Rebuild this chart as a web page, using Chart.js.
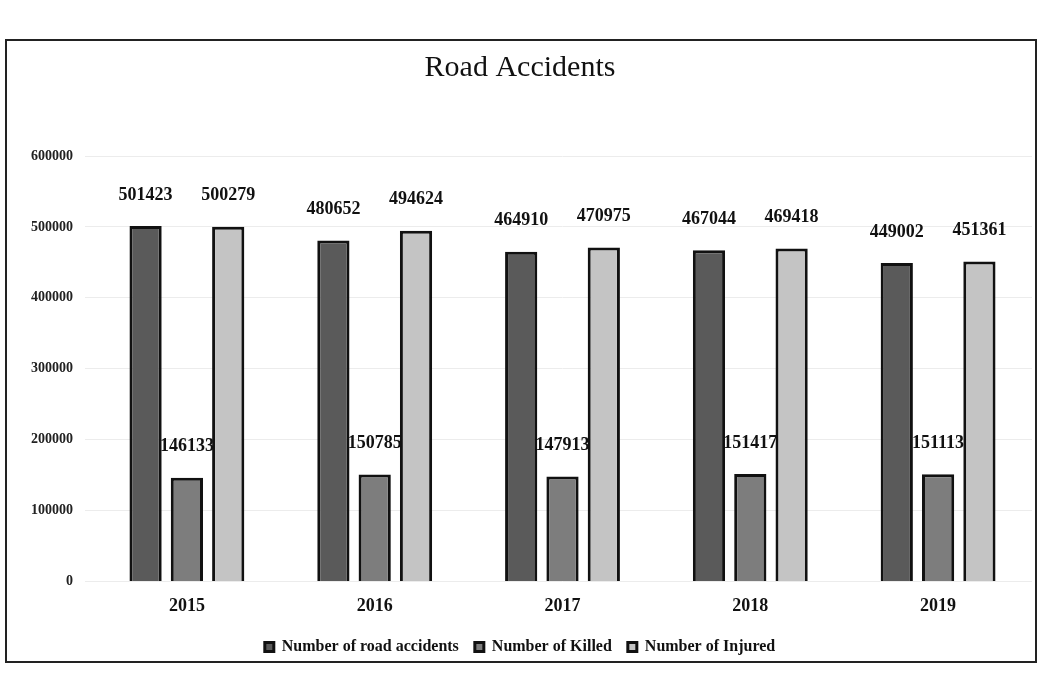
<!DOCTYPE html>
<html>
<head>
<meta charset="utf-8">
<script src="https://cdn.jsdelivr.net/npm/chart.js@4.4.1/dist/chart.umd.min.js"></script>
<style>
  html, body { margin: 0; padding: 0; background: #ffffff; }
  #wrap { width: 1038px; height: 689px; position: relative; }
  canvas { display: block; }
</style>
</head>
<body>
<div id="wrap"><canvas id="c" width="1038" height="689"></canvas></div>
<script>
const categories = ['2015', '2016', '2017', '2018', '2019'];
const roadAccidents = [501423, 480652, 464910, 467044, 449002];
const killed = [146133, 150785, 147913, 151417, 151113];
const injured = [500279, 494624, 470975, 469418, 451361];
const yTicks = [0, 100000, 200000, 300000, 400000, 500000, 600000];

const serif = '"Liberation Serif", "DejaVu Serif", serif';

const labelPlugin = {
  id: 'barLabels',
  afterDatasetsDraw(chart) {
    const ctx = chart.ctx;
    ctx.save();
    ctx.fillStyle = '#111';
    ctx.font = 'bold 18px ' + serif;
    ctx.textAlign = 'center';
    ctx.textBaseline = 'bottom';
    chart.data.datasets.forEach((ds, i) => {
      const meta = chart.getDatasetMeta(i);
      meta.data.forEach((bar, j) => {
        ctx.fillText(String(ds.data[j]), bar.x, bar.y - 22);
      });
    });
    ctx.restore();
  }
};

const framePlugin = {
  id: 'frame',
  beforeDraw(chart) {
    const ctx = chart.ctx;
    ctx.save();
    ctx.strokeStyle = '#222';
    ctx.lineWidth = 2;
    ctx.strokeRect(6, 40, 1030, 622);
    ctx.restore();
  }
};

new Chart(document.getElementById('c'), {
  type: 'bar',
  data: {
    labels: categories,
    datasets: [
      { label: 'Number of road accidents', data: roadAccidents, backgroundColor: '#5a5a5a', borderColor: '#111', borderWidth: 3 },
      { label: 'Number of Killed', data: killed, backgroundColor: '#7d7d7d', borderColor: '#111', borderWidth: 3 },
      { label: 'Number of Injured', data: injured, backgroundColor: '#c4c4c4', borderColor: '#111', borderWidth: 3 }
    ]
  },
  options: {
    responsive: false,
    animation: false,
    layout: { padding: { left: 8, right: 6, top: 50, bottom: 24 } },
    datasets: { bar: { barPercentage: 0.78, categoryPercentage: 0.66 } },
    plugins: {
      title: {
        display: true,
        text: 'Road Accidents',
        color: '#111',
        font: { family: serif, size: 30, weight: 'normal' },
        padding: { top: 0, bottom: 70 }
      },
      legend: {
        position: 'bottom',
        labels: {
          color: '#111',
          font: { family: serif, size: 16, weight: 'bold' },
          boxWidth: 9,
          boxHeight: 9,
          padding: 16
        }
      },
      tooltip: { enabled: false }
    },
    scales: {
      x: {
        grid: { display: false },
        border: { display: false },
        ticks: { color: '#111', font: { family: serif, size: 18, weight: 'bold' }, padding: 6 }
      },
      y: {
        min: 0,
        max: 600000,
        afterBuildTicks(axis) { axis.ticks = yTicks.map(v => ({ value: v })); },
        afterFit(axis) { axis.width = 85; },
        grid: { color: '#ececec', lineWidth: 1 },
        border: { display: false },
        ticks: {
          color: '#222',
          font: { family: serif, size: 14, weight: 'bold' },
          padding: 12,
          callback: (v) => String(v)
        }
      }
    }
  },
  plugins: [framePlugin, labelPlugin]
});
</script>
</body>
</html>
